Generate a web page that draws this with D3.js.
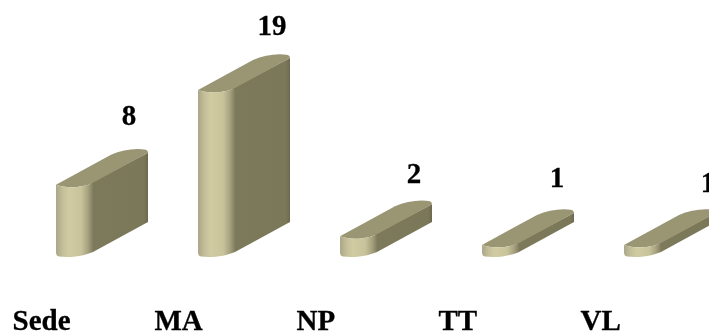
<!DOCTYPE html>
<html><head><meta charset="utf-8">
<script src="https://cdn.jsdelivr.net/npm/d3@7"></script>
<style>html,body{margin:0;padding:0;background:#fff;overflow:hidden}svg{display:block;filter:blur(.55px)}</style>
</head><body><svg id="c" width="709" height="331"></svg>
<script>
const categories = ["Sede","MA","NP","TT","VL"];
const values = [8,19,2,1,1];

const W = 709, H = 331, base = 252;
const svg = d3.select("#c");
const x = d3.scalePoint().domain(categories).range([56,624]);
const y = d3.scaleLinear().domain([0,19]).range([253.5,90]);
// value labels drift slightly from bar to bar in the reference's perspective
const labelX = d3.scaleOrdinal().domain(categories).range([73,74,74,75,84]);
const labelY = d3.scaleOrdinal().domain(categories).range([125,35,183,187,192]);

const defs = svg.append("defs");
const grad = defs.append("linearGradient").attr("id","front");
[[0,"#aaa687"],[.18,"#c4bf99"],[.35,"#d0cba1"],[.68,"#c8c39a"],[.87,"#a5a17f"],[1,"#807c5e"]]
  .forEach(([o,c])=>grad.append("stop").attr("offset",o).attr("stop-color",c));
const gradR = defs.append("linearGradient").attr("id","side");
[[0,"#7d795b"],[.93,"#7b7759"],[1,"#6c694e"]]
  .forEach(([o,c])=>gradR.append("stop").attr("offset",o).attr("stop-color",c));

const data = categories.map((c,i)=>({c,v:values[i]}));
const bars = svg.selectAll("g.bar").data(data).join("g").attr("class","bar")
  .attr("transform",d=>`translate(${x(d.c)},0)`);

const sidePath = d=>{const t=y(d.v),b=base;
  return `M35,${t-2} L92,${t-32} L92,${b-30} L37,${b} Z`;};
const topPath = d=>{const t=y(d.v);
  return `M0,${t} L55,${t-30} C66,${t-35} 80,${t-37} 90,${t-35} Q92,${t-34} 92,${t-32} L37,${t-2} C27,${t+3} 10,${t+4} 0,${t} Z`;};
const frontPath = d=>{const t=y(d.v),b=base;
  return `M0,${t} C10,${t+4} 27,${t+3} 37,${t-2} L37,${b} C28,${b+4} 14,${b+6} 3,${b+4.5} Q0,${b+4} 0,${b} Z`;};

bars.append("path").attr("d",sidePath).attr("fill","url(#side)");
bars.append("path").attr("d",topPath).attr("fill","#9a9674");
bars.append("path").attr("d",frontPath).attr("fill","url(#front)");

const font = "'Liberation Serif','Times New Roman',serif";
svg.selectAll("text.val").data(data).join("text").attr("class","val")
  .attr("x",d=>x(d.c)+labelX(d.c)).attr("y",d=>labelY(d.c))
  .attr("text-anchor","middle").attr("font-family",font).attr("font-weight","bold")
  .attr("font-size",29).attr("fill","#000").attr("stroke","#000").attr("stroke-width",.3).text(d=>d.v);

const ax = svg.append("g").attr("transform","translate(-44,330)")
  .call(d3.axisBottom(x).tickSize(0).tickPadding(0));
ax.select(".domain").remove();
ax.selectAll("text").attr("text-anchor","start").attr("dy",0).attr("y",0)
  .attr("font-family",font).attr("font-weight","bold").attr("font-size",29).attr("fill","#000")
  .attr("stroke","#000").attr("stroke-width",.3);
</script></body></html>
